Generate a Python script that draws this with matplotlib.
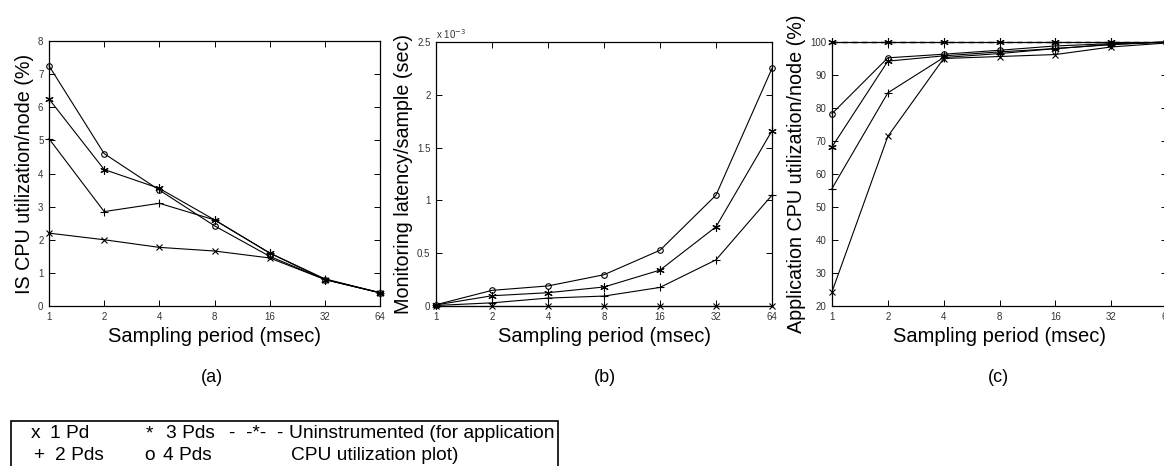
import matplotlib
matplotlib.use("Agg")
import matplotlib.pyplot as plt
from matplotlib.ticker import FixedLocator, FuncFormatter, NullLocator
from matplotlib.patches import Rectangle

plt.rcParams['font.family'] = ['Liberation Sans', 'DejaVu Sans']

# ---------------- data ----------------
periods = [1, 2, 4, 8, 16, 32, 64]
period_labels = ['1', '2', '4', '8', '16', '32', '64']

# (a) IS CPU utilization/node (%)
cpu_1pd = [2.2, 2.0, 1.77, 1.66, 1.45, 0.80, 0.40]
cpu_2pd = [5.05, 2.85, 3.10, 2.60, 1.60, 0.82, 0.40]
cpu_3pd = [6.25, 4.12, 3.55, 2.60, 1.60, 0.80, 0.40]
cpu_4pd = [7.25, 4.60, 3.50, 2.42, 1.50, 0.80, 0.40]

# (b) Monitoring latency/sample (sec)
lat_1pd = [0.001e-3, 0.001e-3, 0.001e-3, 0.001e-3, 0.001e-3, 0.001e-3, 0.001e-3]
lat_2pd = [0.005e-3, 0.030e-3, 0.075e-3, 0.094e-3, 0.176e-3, 0.437e-3, 1.05e-3]
lat_3pd = [0.010e-3, 0.097e-3, 0.126e-3, 0.180e-3, 0.340e-3, 0.750e-3, 1.66e-3]
lat_4pd = [0.012e-3, 0.148e-3, 0.190e-3, 0.296e-3, 0.528e-3, 1.050e-3, 2.25e-3]

# (c) Application CPU utilization/node (%)
app_1pd = [24.3, 71.4, 95.0, 95.6, 96.2, 98.5, 99.7]
app_2pd = [55.6, 84.6, 95.3, 96.5, 98.0, 99.2, 100.0]
app_3pd = [68.2, 94.2, 95.8, 97.0, 98.0, 99.3, 100.0]
app_4pd = [78.3, 95.2, 96.3, 97.5, 98.8, 99.5, 100.0]
app_uninstr = [100.0, 100.0, 100.0, 100.0, 100.0, 100.0, 100.0]

# ---------------- figure ----------------
W, H = 1164, 466
fig = plt.figure(figsize=(W / 100, H / 100), dpi=100)

def box(left, top, right, bottom):
    return [left / W, 1 - bottom / H, (right - left) / W, (bottom - top) / H]

ax_a = fig.add_axes(box(49, 41, 380, 306))
ax_b = fig.add_axes(box(436, 42, 772, 306))
ax_c = fig.add_axes(box(832, 42, 1167, 306))

ASTER = (6, 2, 0)
styles = [('x', 5), ('+', 6), (ASTER, 6), ('o', 4)]
LABEL_FS = 14.2

def style_axes(ax):
    ax.set_xscale('log', base=2)
    ax.set_xlim(1, 64)
    ax.xaxis.set_major_locator(FixedLocator(periods))
    ax.xaxis.set_major_formatter(FuncFormatter(lambda v, p: period_labels[periods.index(int(round(v)))] if int(round(v)) in periods else ''))
    ax.xaxis.set_minor_locator(NullLocator())
    ax.tick_params(direction='in', top=True, right=True, length=4, width=0.7,
                   labelsize=7, labelcolor='#333333', pad=4)
    for s in ax.spines.values():
        s.set_linewidth(0.9)
    ax.set_xlabel('Sampling period (msec)', fontsize=14.5, labelpad=4)

def plot_series(ax, series):
    for ys, (m, ms) in zip(series, styles):
        ax.plot(periods, ys, color='black', lw=0.8, marker=m, markersize=ms,
                markerfacecolor='none', markeredgecolor='black', markeredgewidth=0.8,
                clip_on=False, zorder=3)

# (a)
plot_series(ax_a, [cpu_1pd, cpu_2pd, cpu_3pd, cpu_4pd])
style_axes(ax_a)
ax_a.set_ylim(0, 8)
ax_a.set_yticks(range(0, 9))
ax_a.set_ylabel('IS CPU utilization/node (%)', fontsize=LABEL_FS, labelpad=3)

# (b)
plot_series(ax_b, [lat_1pd, lat_2pd, lat_3pd, lat_4pd])
style_axes(ax_b)
ax_b.set_ylim(0, 2.5e-3)
ax_b.set_yticks([0, 0.5e-3, 1.0e-3, 1.5e-3, 2.0e-3, 2.5e-3])
ax_b.yaxis.set_major_formatter(FuncFormatter(lambda v, p: ('%g' % round(v * 1e3, 3))))
ax_b.set_ylabel('Monitoring latency/sample (sec)', fontsize=LABEL_FS, labelpad=3)
ax_b.text(0.0, 1.005, r'x 10$^{-3}$', transform=ax_b.transAxes, fontsize=7,
          color='#333333', ha='left', va='bottom')

# (c)
ax_c.plot(periods, app_uninstr, color='black', lw=1.0, ls=(0, (4, 3)), marker=ASTER,
          markersize=6, markeredgewidth=0.8, clip_on=False, zorder=4)
plot_series(ax_c, [app_1pd, app_2pd, app_3pd, app_4pd])
style_axes(ax_c)
ax_c.set_ylim(20, 100)
ax_c.set_yticks(range(20, 101, 10))
ax_c.set_ylabel('Application CPU utilization/node (%)', fontsize=LABEL_FS, labelpad=3)

# sub-captions
for x, lab in [(212, '(a)'), (605, '(b)'), (998, '(c)')]:
    fig.text(x / W, 1 - 378 / H, lab, ha='center', va='center', fontsize=13)

# legend box
fig.patches.append(Rectangle((11 / W, 1 - 490 / H), (558 - 11) / W, (490 - 421) / H,
                             transform=fig.transFigure, fill=False, lw=1.2,
                             edgecolor='black', clip_on=False))
row1, row2 = 1 - 434 / H, 1 - 455 / H
fs = 13.8
def t(x, y, s, **kw):
    fig.text(x / W, y, s, ha='left', va='center', fontsize=fs, **kw)
t(31, row1, 'x')
t(50, row1, '1 Pd')
t(146, row1, '*')
t(166, row1, '3 Pds')
t(229, row1, '-  -*-  -')
t(289, row1, 'Uninstrumented (for application')
t(33, row2, '+')
t(55, row2, '2 Pds')
t(144, row2, 'o')
t(163, row2, '4 Pds')
t(291, row2, 'CPU utilization plot)')

fig.savefig('out.png', dpi=100)
